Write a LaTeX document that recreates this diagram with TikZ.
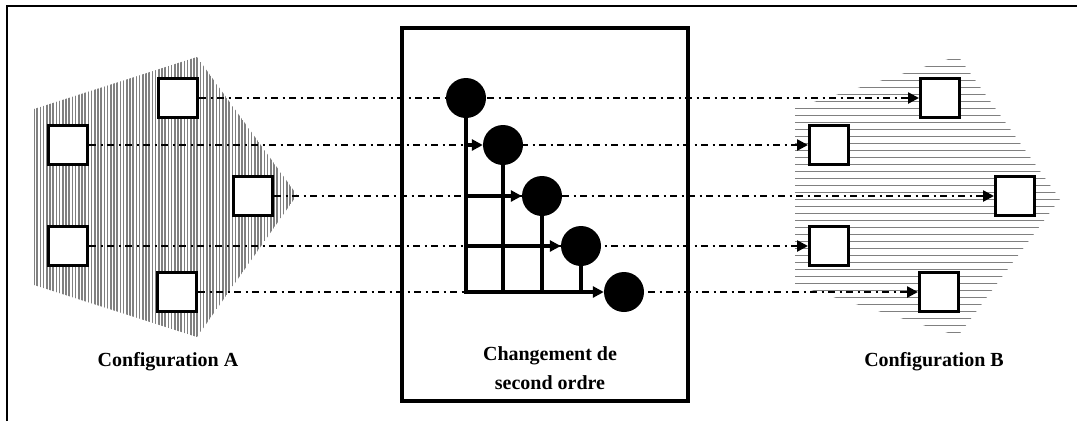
\documentclass[tikz,border=0pt]{standalone}
\usepackage{fontspec}
\setmainfont{Liberation Serif}
\usetikzlibrary{arrows.meta}
\tikzset{
  sq/.style={draw=black, fill=white, line width=3pt, minimum size=39pt, inner sep=0pt},
  dot/.style={circle, fill=black, minimum size=40pt, inner sep=0pt},
  dd/.style={line width=2.5pt, dash pattern=on 7pt off 4.5pt on 2pt off 4.5pt},
  ddarrow/.style={dd, -{Triangle[length=11pt,width=11pt]}},
  tree/.style={line width=3.8pt},
  treearrow/.style={tree, -{Triangle[length=11pt,width=11pt]}},
  lbl/.style={font=\fontsize{20}{29}\selectfont\bfseries, align=center, inner sep=0pt},
  frameline/.style={line width=2pt}
}
\begin{document}
\begin{tikzpicture}[x=1pt,y=-1pt]
\useasboundingbox (0,0) rectangle (1077,421);
% outer frame (top and left)
\draw[frameline] (7,421) -- (7,6) -- (1077,6);
% left hatched pentagon
\begin{scope}
\clip (34,109) -- (197,57) -- (297,195) -- (197,337) -- (34,285) -- cycle;
\foreach \x in {34,37.2,...,300} \draw[line width=1.7pt, gray] (\x,50) -- (\x,345);
\end{scope}
% right hatched shape
\begin{scope}
\clip (795,108) -- (958,56) -- (1060,199) -- (958,336) -- (795,285) -- cycle;
\foreach \y in {59,66,...,335} \draw[line width=0.9pt, gray] (790,\y) -- (1065,\y);
\end{scope}
% squares
\node[sq] (A1) at (178,98) {};
\node[sq] (A2) at (68,145) {};
\node[sq] (A3) at (253,196) {};
\node[sq] (A4) at (68,246) {};
\node[sq] (A5) at (177,292) {};
\node[sq] (B1) at (940,98) {};
\node[sq] (B2) at (829,145) {};
\node[sq] (B3) at (1015,196) {};
\node[sq] (B4) at (829,246) {};
\node[sq] (B5) at (939,292) {};
% dash-dot connectors
\draw[ddarrow] (A1.east) -- (B1.west);
\draw[ddarrow] (A2.east) -- (B2.west);
\draw[ddarrow] (A3.east) -- (B3.west);
\draw[ddarrow] (A4.east) -- (B4.west);
\draw[ddarrow] (A5.east) -- (B5.west);
% middle box
\node[draw, line width=4.5pt, minimum width=286pt, minimum height=373pt, inner sep=0pt] (box) at (545,214.5) {};
% circles
\node[dot] (c1) at (466,98) {};
\node[dot] (c2) at (503,145) {};
\node[dot] (c3) at (542,196) {};
\node[dot] (c4) at (581,246) {};
\node[dot] (c5) at (624,292) {};
\coordinate (t2) at (466,145);
\coordinate (t3) at (466,196);
\coordinate (t4) at (466,246);
\coordinate (b1) at (466,292);
\coordinate (b2) at (503,292);
\coordinate (b3) at (542,292);
\coordinate (b4) at (581,292);
\draw[tree] (c1.center) -- (b1);
\draw[tree] (c2.center) -- (b2);
\draw[tree] (c3.center) -- (b3);
\draw[tree] (c4.center) -- (b4);
\draw[treearrow] (t2) -- (c2.west);
\draw[treearrow] (t3) -- (c3.west);
\draw[treearrow] (t4) -- (c4.west);
\draw[treearrow] ([xshift=-1.9pt]b1) -- (c5.west);
% labels
\node[lbl] (la) at (168,362) {Configuration A};
\node[lbl] (lm) at (550,368) {Changement de\\second ordre};
\node[lbl] (lb) at (934,362) {Configuration B};
\end{tikzpicture}
\end{document}
